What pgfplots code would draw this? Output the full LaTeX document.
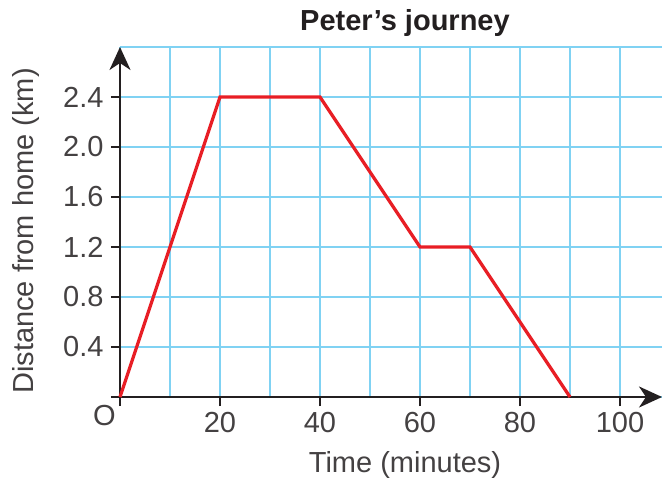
\documentclass[border=0pt]{standalone}
\usepackage{pgfplots}
\pgfplotsset{compat=1.18}
\usepackage{fontspec}
\setmainfont{Liberation Sans}
\usetikzlibrary{arrows.meta}
\definecolor{gridblue}{RGB}{128,210,243}
\definecolor{linered}{RGB}{232,30,37}
\definecolor{txt}{RGB}{35,31,32}
\begin{document}
\begin{tikzpicture}
\begin{axis}[
  at={(0pt,0pt)}, anchor=south west,
  scale only axis, width=542pt, height=350pt,
  xmin=0, xmax=108.4, ymin=0, ymax=2.8,
  clip=false,
  axis lines=left,
  axis line style={line width=2.6pt, txt, -{Stealth[length=23pt,width=21pt,inset=7pt]}},
  xtick={0,20,40,60,80,100},
  xticklabels={,20,40,60,80,100},
  minor xtick={10,30,50,70,90},
  ytick={0,0.4,0.8,1.2,1.6,2.0,2.4},
  yticklabels={,0.4,0.8,1.2,1.6,2.0,2.4},
  minor ytick={2.8},
  tick align=outside,
  major tick length=9pt,
  minor tick length=0pt,
  tick style={line width=2.4pt, txt},
  grid=both,
  major grid style={gridblue, line width=2pt},
  minor grid style={gridblue, line width=2pt},
  /pgf/number format/assume math mode=true,
  ticklabel style={font=\fontsize{29}{34}\selectfont, text=txt!85},
  xticklabel style={yshift=-3pt},
  yticklabel style={xshift=-4pt},
]
\addplot[linered, line width=3.2pt] coordinates {(0,0) (20,2.4) (40,2.4) (60,1.2) (70,1.2) (90,0)};
\end{axis}
\node[font=\bfseries\fontsize{29}{34}\selectfont, text=txt] at (285pt,374pt) {Peter’s journey};
\node[font=\fontsize{29}{34}\selectfont, text=txt!85] at (285pt,-68pt) {Time (minutes)};
\node[font=\fontsize{29}{34}\selectfont, text=txt!85, rotate=90] at (-94pt,166pt) {Distance from home (km)};
\node[font=\fontsize{29}{34}\selectfont, text=txt!85] at (-15.5pt,-19pt) {O};
\pgfresetboundingbox
\useasboundingbox (-120pt,-86pt) rectangle (542pt,397pt);
\end{tikzpicture}
\end{document}
